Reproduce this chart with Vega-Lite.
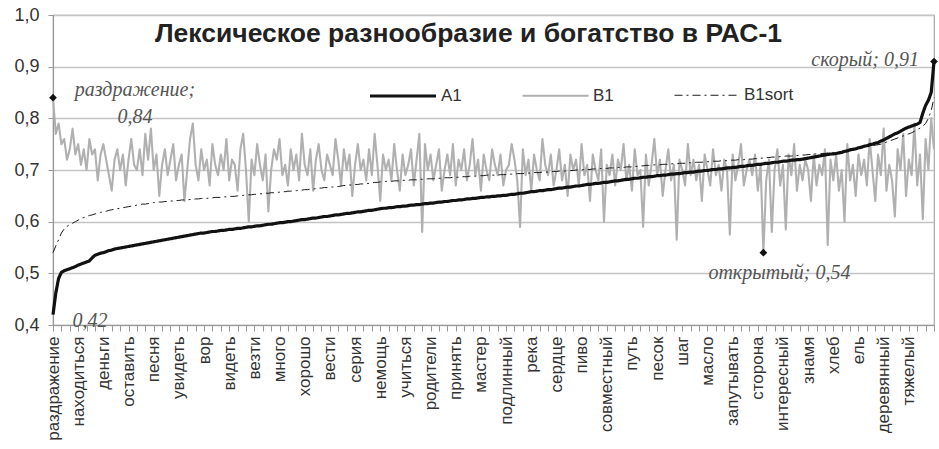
{
  "$schema": "https://vega.github.io/schema/vega-lite/v6.json",
  "width": 881,
  "height": 310,
  "autosize": {"type": "none"},
  "padding": {"left": 53, "top": 15, "right": 5, "bottom": 124},
  "background": "white",
  "config": {"font": "Liberation Sans", "view": {"stroke": "#a8a8a8", "strokeWidth": 1.2}},
  "title": {"text": "Лексическое разнообразие и богатство в РАС-1", "anchor": "middle", "frame": "group", "offset": -54, "dx": -25, "fontSize": 26.5, "font": "Liberation Sans", "fontWeight": "bold", "color": "#222", "baseline": "middle"},
  "data": {"values": [
{"i":0,"A1":0.42,"B1":0.84,"B1sort":0.54},
{"i":1,"A1":0.462,"B1":0.77,"B1sort":0.553},
{"i":2,"A1":0.49,"B1":0.79,"B1sort":0.565},
{"i":3,"A1":0.502,"B1":0.75,"B1sort":0.578},
{"i":4,"A1":0.505,"B1":0.76,"B1sort":0.586},
{"i":5,"A1":0.507,"B1":0.72,"B1sort":0.591},
{"i":6,"A1":0.509,"B1":0.74,"B1sort":0.594},
{"i":7,"A1":0.511,"B1":0.78,"B1sort":0.597},
{"i":8,"A1":0.513,"B1":0.73,"B1sort":0.6},
{"i":9,"A1":0.516,"B1":0.75,"B1sort":0.603},
{"i":10,"A1":0.518,"B1":0.71,"B1sort":0.606},
{"i":11,"A1":0.52,"B1":0.74,"B1sort":0.608},
{"i":12,"A1":0.522,"B1":0.7,"B1sort":0.61},
{"i":13,"A1":0.524,"B1":0.76,"B1sort":0.612},
{"i":14,"A1":0.53,"B1":0.73,"B1sort":0.613},
{"i":15,"A1":0.535,"B1":0.74,"B1sort":0.615},
{"i":16,"A1":0.537,"B1":0.68,"B1sort":0.616},
{"i":17,"A1":0.539,"B1":0.73,"B1sort":0.618},
{"i":18,"A1":0.54,"B1":0.75,"B1sort":0.619},
{"i":19,"A1":0.542,"B1":0.72,"B1sort":0.62},
{"i":20,"A1":0.544,"B1":0.69,"B1sort":0.622},
{"i":21,"A1":0.545,"B1":0.66,"B1sort":0.623},
{"i":22,"A1":0.547,"B1":0.72,"B1sort":0.624},
{"i":23,"A1":0.548,"B1":0.74,"B1sort":0.625},
{"i":24,"A1":0.549,"B1":0.7,"B1sort":0.626},
{"i":25,"A1":0.55,"B1":0.73,"B1sort":0.627},
{"i":26,"A1":0.551,"B1":0.67,"B1sort":0.628},
{"i":27,"A1":0.552,"B1":0.72,"B1sort":0.629},
{"i":28,"A1":0.553,"B1":0.76,"B1sort":0.63},
{"i":29,"A1":0.554,"B1":0.71,"B1sort":0.631},
{"i":30,"A1":0.555,"B1":0.7,"B1sort":0.632},
{"i":31,"A1":0.556,"B1":0.74,"B1sort":0.633},
{"i":32,"A1":0.557,"B1":0.69,"B1sort":0.634},
{"i":33,"A1":0.558,"B1":0.77,"B1sort":0.634},
{"i":34,"A1":0.559,"B1":0.72,"B1sort":0.635},
{"i":35,"A1":0.56,"B1":0.78,"B1sort":0.636},
{"i":36,"A1":0.561,"B1":0.7,"B1sort":0.637},
{"i":37,"A1":0.562,"B1":0.73,"B1sort":0.637},
{"i":38,"A1":0.563,"B1":0.65,"B1sort":0.638},
{"i":39,"A1":0.564,"B1":0.71,"B1sort":0.638},
{"i":40,"A1":0.565,"B1":0.74,"B1sort":0.639},
{"i":41,"A1":0.566,"B1":0.69,"B1sort":0.639},
{"i":42,"A1":0.567,"B1":0.72,"B1sort":0.64},
{"i":43,"A1":0.568,"B1":0.75,"B1sort":0.64},
{"i":44,"A1":0.569,"B1":0.68,"B1sort":0.641},
{"i":45,"A1":0.57,"B1":0.71,"B1sort":0.641},
{"i":46,"A1":0.571,"B1":0.73,"B1sort":0.642},
{"i":47,"A1":0.572,"B1":0.64,"B1sort":0.642},
{"i":48,"A1":0.573,"B1":0.7,"B1sort":0.642},
{"i":49,"A1":0.574,"B1":0.76,"B1sort":0.643},
{"i":50,"A1":0.575,"B1":0.79,"B1sort":0.643},
{"i":51,"A1":0.576,"B1":0.71,"B1sort":0.644},
{"i":52,"A1":0.577,"B1":0.68,"B1sort":0.644},
{"i":53,"A1":0.578,"B1":0.74,"B1sort":0.645},
{"i":54,"A1":0.578,"B1":0.7,"B1sort":0.645},
{"i":55,"A1":0.579,"B1":0.72,"B1sort":0.645},
{"i":56,"A1":0.58,"B1":0.67,"B1sort":0.646},
{"i":57,"A1":0.581,"B1":0.75,"B1sort":0.646},
{"i":58,"A1":0.581,"B1":0.71,"B1sort":0.647},
{"i":59,"A1":0.582,"B1":0.69,"B1sort":0.647},
{"i":60,"A1":0.583,"B1":0.73,"B1sort":0.647},
{"i":61,"A1":0.583,"B1":0.7,"B1sort":0.648},
{"i":62,"A1":0.584,"B1":0.76,"B1sort":0.648},
{"i":63,"A1":0.585,"B1":0.68,"B1sort":0.649},
{"i":64,"A1":0.585,"B1":0.72,"B1sort":0.649},
{"i":65,"A1":0.586,"B1":0.71,"B1sort":0.649},
{"i":66,"A1":0.587,"B1":0.66,"B1sort":0.65},
{"i":67,"A1":0.587,"B1":0.74,"B1sort":0.65},
{"i":68,"A1":0.588,"B1":0.77,"B1sort":0.651},
{"i":69,"A1":0.589,"B1":0.7,"B1sort":0.651},
{"i":70,"A1":0.59,"B1":0.6,"B1sort":0.652},
{"i":71,"A1":0.59,"B1":0.72,"B1sort":0.652},
{"i":72,"A1":0.591,"B1":0.69,"B1sort":0.653},
{"i":73,"A1":0.592,"B1":0.75,"B1sort":0.653},
{"i":74,"A1":0.592,"B1":0.71,"B1sort":0.654},
{"i":75,"A1":0.593,"B1":0.68,"B1sort":0.654},
{"i":76,"A1":0.594,"B1":0.73,"B1sort":0.655},
{"i":77,"A1":0.595,"B1":0.62,"B1sort":0.655},
{"i":78,"A1":0.595,"B1":0.7,"B1sort":0.656},
{"i":79,"A1":0.596,"B1":0.74,"B1sort":0.656},
{"i":80,"A1":0.597,"B1":0.72,"B1sort":0.657},
{"i":81,"A1":0.598,"B1":0.76,"B1sort":0.657},
{"i":82,"A1":0.598,"B1":0.69,"B1sort":0.658},
{"i":83,"A1":0.599,"B1":0.71,"B1sort":0.658},
{"i":84,"A1":0.6,"B1":0.67,"B1sort":0.659},
{"i":85,"A1":0.6,"B1":0.74,"B1sort":0.659},
{"i":86,"A1":0.601,"B1":0.7,"B1sort":0.66},
{"i":87,"A1":0.602,"B1":0.73,"B1sort":0.66},
{"i":88,"A1":0.603,"B1":0.68,"B1sort":0.661},
{"i":89,"A1":0.604,"B1":0.77,"B1sort":0.661},
{"i":90,"A1":0.604,"B1":0.71,"B1sort":0.662},
{"i":91,"A1":0.605,"B1":0.69,"B1sort":0.662},
{"i":92,"A1":0.606,"B1":0.74,"B1sort":0.663},
{"i":93,"A1":0.607,"B1":0.66,"B1sort":0.663},
{"i":94,"A1":0.607,"B1":0.72,"B1sort":0.664},
{"i":95,"A1":0.608,"B1":0.75,"B1sort":0.665},
{"i":96,"A1":0.609,"B1":0.7,"B1sort":0.665},
{"i":97,"A1":0.61,"B1":0.68,"B1sort":0.666},
{"i":98,"A1":0.61,"B1":0.73,"B1sort":0.666},
{"i":99,"A1":0.611,"B1":0.71,"B1sort":0.667},
{"i":100,"A1":0.612,"B1":0.69,"B1sort":0.667},
{"i":101,"A1":0.613,"B1":0.76,"B1sort":0.668},
{"i":102,"A1":0.613,"B1":0.72,"B1sort":0.668},
{"i":103,"A1":0.614,"B1":0.67,"B1sort":0.669},
{"i":104,"A1":0.615,"B1":0.74,"B1sort":0.67},
{"i":105,"A1":0.616,"B1":0.7,"B1sort":0.67},
{"i":106,"A1":0.616,"B1":0.73,"B1sort":0.671},
{"i":107,"A1":0.617,"B1":0.65,"B1sort":0.671},
{"i":108,"A1":0.618,"B1":0.71,"B1sort":0.672},
{"i":109,"A1":0.619,"B1":0.75,"B1sort":0.672},
{"i":110,"A1":0.619,"B1":0.7,"B1sort":0.673},
{"i":111,"A1":0.62,"B1":0.72,"B1sort":0.673},
{"i":112,"A1":0.621,"B1":0.68,"B1sort":0.674},
{"i":113,"A1":0.622,"B1":0.74,"B1sort":0.674},
{"i":114,"A1":0.622,"B1":0.69,"B1sort":0.675},
{"i":115,"A1":0.623,"B1":0.77,"B1sort":0.676},
{"i":116,"A1":0.624,"B1":0.71,"B1sort":0.676},
{"i":117,"A1":0.625,"B1":0.64,"B1sort":0.677},
{"i":118,"A1":0.626,"B1":0.73,"B1sort":0.677},
{"i":119,"A1":0.626,"B1":0.7,"B1sort":0.678},
{"i":120,"A1":0.627,"B1":0.72,"B1sort":0.678},
{"i":121,"A1":0.627,"B1":0.68,"B1sort":0.678},
{"i":122,"A1":0.628,"B1":0.75,"B1sort":0.679},
{"i":123,"A1":0.629,"B1":0.7,"B1sort":0.679},
{"i":124,"A1":0.629,"B1":0.66,"B1sort":0.679},
{"i":125,"A1":0.63,"B1":0.73,"B1sort":0.68},
{"i":126,"A1":0.63,"B1":0.69,"B1sort":0.68},
{"i":127,"A1":0.631,"B1":0.71,"B1sort":0.68},
{"i":128,"A1":0.632,"B1":0.74,"B1sort":0.681},
{"i":129,"A1":0.632,"B1":0.67,"B1sort":0.681},
{"i":130,"A1":0.633,"B1":0.72,"B1sort":0.681},
{"i":131,"A1":0.633,"B1":0.77,"B1sort":0.682},
{"i":132,"A1":0.634,"B1":0.58,"B1sort":0.682},
{"i":133,"A1":0.635,"B1":0.75,"B1sort":0.682},
{"i":134,"A1":0.635,"B1":0.7,"B1sort":0.683},
{"i":135,"A1":0.636,"B1":0.73,"B1sort":0.683},
{"i":136,"A1":0.636,"B1":0.68,"B1sort":0.683},
{"i":137,"A1":0.637,"B1":0.71,"B1sort":0.684},
{"i":138,"A1":0.638,"B1":0.74,"B1sort":0.684},
{"i":139,"A1":0.638,"B1":0.66,"B1sort":0.684},
{"i":140,"A1":0.639,"B1":0.7,"B1sort":0.685},
{"i":141,"A1":0.639,"B1":0.73,"B1sort":0.685},
{"i":142,"A1":0.64,"B1":0.69,"B1sort":0.685},
{"i":143,"A1":0.641,"B1":0.75,"B1sort":0.686},
{"i":144,"A1":0.641,"B1":0.67,"B1sort":0.686},
{"i":145,"A1":0.642,"B1":0.72,"B1sort":0.686},
{"i":146,"A1":0.642,"B1":0.7,"B1sort":0.687},
{"i":147,"A1":0.643,"B1":0.74,"B1sort":0.687},
{"i":148,"A1":0.644,"B1":0.68,"B1sort":0.687},
{"i":149,"A1":0.644,"B1":0.71,"B1sort":0.688},
{"i":150,"A1":0.645,"B1":0.76,"B1sort":0.688},
{"i":151,"A1":0.645,"B1":0.69,"B1sort":0.688},
{"i":152,"A1":0.646,"B1":0.72,"B1sort":0.689},
{"i":153,"A1":0.647,"B1":0.66,"B1sort":0.689},
{"i":154,"A1":0.647,"B1":0.73,"B1sort":0.689},
{"i":155,"A1":0.648,"B1":0.7,"B1sort":0.69},
{"i":156,"A1":0.648,"B1":0.68,"B1sort":0.69},
{"i":157,"A1":0.649,"B1":0.74,"B1sort":0.69},
{"i":158,"A1":0.649,"B1":0.71,"B1sort":0.69},
{"i":159,"A1":0.65,"B1":0.69,"B1sort":0.69},
{"i":160,"A1":0.65,"B1":0.73,"B1sort":0.691},
{"i":161,"A1":0.651,"B1":0.67,"B1sort":0.691},
{"i":162,"A1":0.651,"B1":0.7,"B1sort":0.691},
{"i":163,"A1":0.652,"B1":0.71,"B1sort":0.692},
{"i":164,"A1":0.653,"B1":0.75,"B1sort":0.692},
{"i":165,"A1":0.653,"B1":0.72,"B1sort":0.692},
{"i":166,"A1":0.654,"B1":0.68,"B1sort":0.693},
{"i":167,"A1":0.655,"B1":0.59,"B1sort":0.693},
{"i":168,"A1":0.655,"B1":0.74,"B1sort":0.693},
{"i":169,"A1":0.656,"B1":0.69,"B1sort":0.694},
{"i":170,"A1":0.657,"B1":0.72,"B1sort":0.694},
{"i":171,"A1":0.658,"B1":0.66,"B1sort":0.694},
{"i":172,"A1":0.658,"B1":0.73,"B1sort":0.695},
{"i":173,"A1":0.659,"B1":0.7,"B1sort":0.695},
{"i":174,"A1":0.66,"B1":0.68,"B1sort":0.695},
{"i":175,"A1":0.66,"B1":0.76,"B1sort":0.696},
{"i":176,"A1":0.661,"B1":0.71,"B1sort":0.696},
{"i":177,"A1":0.662,"B1":0.69,"B1sort":0.696},
{"i":178,"A1":0.662,"B1":0.73,"B1sort":0.697},
{"i":179,"A1":0.663,"B1":0.67,"B1sort":0.697},
{"i":180,"A1":0.664,"B1":0.7,"B1sort":0.697},
{"i":181,"A1":0.665,"B1":0.74,"B1sort":0.698},
{"i":182,"A1":0.665,"B1":0.68,"B1sort":0.698},
{"i":183,"A1":0.666,"B1":0.71,"B1sort":0.698},
{"i":184,"A1":0.667,"B1":0.65,"B1sort":0.699},
{"i":185,"A1":0.667,"B1":0.73,"B1sort":0.699},
{"i":186,"A1":0.668,"B1":0.7,"B1sort":0.699},
{"i":187,"A1":0.669,"B1":0.72,"B1sort":0.7},
{"i":188,"A1":0.669,"B1":0.67,"B1sort":0.7},
{"i":189,"A1":0.67,"B1":0.75,"B1sort":0.7},
{"i":190,"A1":0.671,"B1":0.69,"B1sort":0.701},
{"i":191,"A1":0.672,"B1":0.71,"B1sort":0.701},
{"i":192,"A1":0.672,"B1":0.64,"B1sort":0.701},
{"i":193,"A1":0.673,"B1":0.73,"B1sort":0.702},
{"i":194,"A1":0.674,"B1":0.7,"B1sort":0.702},
{"i":195,"A1":0.674,"B1":0.68,"B1sort":0.702},
{"i":196,"A1":0.675,"B1":0.74,"B1sort":0.703},
{"i":197,"A1":0.676,"B1":0.6,"B1sort":0.703},
{"i":198,"A1":0.676,"B1":0.71,"B1sort":0.703},
{"i":199,"A1":0.677,"B1":0.69,"B1sort":0.704},
{"i":200,"A1":0.678,"B1":0.73,"B1sort":0.704},
{"i":201,"A1":0.679,"B1":0.67,"B1sort":0.704},
{"i":202,"A1":0.679,"B1":0.72,"B1sort":0.705},
{"i":203,"A1":0.68,"B1":0.7,"B1sort":0.705},
{"i":204,"A1":0.681,"B1":0.75,"B1sort":0.705},
{"i":205,"A1":0.682,"B1":0.68,"B1sort":0.706},
{"i":206,"A1":0.682,"B1":0.71,"B1sort":0.706},
{"i":207,"A1":0.683,"B1":0.66,"B1sort":0.706},
{"i":208,"A1":0.684,"B1":0.74,"B1sort":0.707},
{"i":209,"A1":0.684,"B1":0.69,"B1sort":0.707},
{"i":210,"A1":0.685,"B1":0.7,"B1sort":0.708},
{"i":211,"A1":0.686,"B1":0.59,"B1sort":0.708},
{"i":212,"A1":0.686,"B1":0.73,"B1sort":0.709},
{"i":213,"A1":0.687,"B1":0.67,"B1sort":0.709},
{"i":214,"A1":0.687,"B1":0.71,"B1sort":0.709},
{"i":215,"A1":0.688,"B1":0.76,"B1sort":0.71},
{"i":216,"A1":0.689,"B1":0.69,"B1sort":0.71},
{"i":217,"A1":0.689,"B1":0.72,"B1sort":0.71},
{"i":218,"A1":0.69,"B1":0.65,"B1sort":0.711},
{"i":219,"A1":0.69,"B1":0.7,"B1sort":0.711},
{"i":220,"A1":0.691,"B1":0.74,"B1sort":0.711},
{"i":221,"A1":0.692,"B1":0.68,"B1sort":0.712},
{"i":222,"A1":0.692,"B1":0.71,"B1sort":0.712},
{"i":223,"A1":0.693,"B1":0.565,"B1sort":0.712},
{"i":224,"A1":0.693,"B1":0.72,"B1sort":0.713},
{"i":225,"A1":0.694,"B1":0.7,"B1sort":0.713},
{"i":226,"A1":0.695,"B1":0.67,"B1sort":0.713},
{"i":227,"A1":0.695,"B1":0.75,"B1sort":0.714},
{"i":228,"A1":0.696,"B1":0.69,"B1sort":0.714},
{"i":229,"A1":0.696,"B1":0.72,"B1sort":0.714},
{"i":230,"A1":0.697,"B1":0.68,"B1sort":0.715},
{"i":231,"A1":0.698,"B1":0.71,"B1sort":0.715},
{"i":232,"A1":0.698,"B1":0.64,"B1sort":0.715},
{"i":233,"A1":0.699,"B1":0.73,"B1sort":0.716},
{"i":234,"A1":0.699,"B1":0.7,"B1sort":0.716},
{"i":235,"A1":0.7,"B1":0.67,"B1sort":0.716},
{"i":236,"A1":0.701,"B1":0.74,"B1sort":0.717},
{"i":237,"A1":0.701,"B1":0.69,"B1sort":0.717},
{"i":238,"A1":0.702,"B1":0.71,"B1sort":0.717},
{"i":239,"A1":0.702,"B1":0.66,"B1sort":0.718},
{"i":240,"A1":0.703,"B1":0.72,"B1sort":0.718},
{"i":241,"A1":0.704,"B1":0.7,"B1sort":0.718},
{"i":242,"A1":0.704,"B1":0.575,"B1sort":0.719},
{"i":243,"A1":0.705,"B1":0.73,"B1sort":0.719},
{"i":244,"A1":0.705,"B1":0.68,"B1sort":0.719},
{"i":245,"A1":0.706,"B1":0.71,"B1sort":0.72},
{"i":246,"A1":0.707,"B1":0.75,"B1sort":0.72},
{"i":247,"A1":0.707,"B1":0.67,"B1sort":0.72},
{"i":248,"A1":0.708,"B1":0.7,"B1sort":0.721},
{"i":249,"A1":0.709,"B1":0.72,"B1sort":0.721},
{"i":250,"A1":0.709,"B1":0.69,"B1sort":0.721},
{"i":251,"A1":0.71,"B1":0.73,"B1sort":0.722},
{"i":252,"A1":0.711,"B1":0.66,"B1sort":0.722},
{"i":253,"A1":0.711,"B1":0.71,"B1sort":0.723},
{"i":254,"A1":0.712,"B1":0.54,"B1sort":0.723},
{"i":255,"A1":0.713,"B1":0.68,"B1sort":0.724},
{"i":256,"A1":0.713,"B1":0.72,"B1sort":0.724},
{"i":257,"A1":0.714,"B1":0.58,"B1sort":0.725},
{"i":258,"A1":0.715,"B1":0.7,"B1sort":0.725},
{"i":259,"A1":0.715,"B1":0.74,"B1sort":0.725},
{"i":260,"A1":0.716,"B1":0.67,"B1sort":0.726},
{"i":261,"A1":0.717,"B1":0.71,"B1sort":0.726},
{"i":262,"A1":0.717,"B1":0.585,"B1sort":0.727},
{"i":263,"A1":0.718,"B1":0.73,"B1sort":0.727},
{"i":264,"A1":0.719,"B1":0.69,"B1sort":0.727},
{"i":265,"A1":0.719,"B1":0.75,"B1sort":0.728},
{"i":266,"A1":0.72,"B1":0.66,"B1sort":0.728},
{"i":267,"A1":0.72,"B1":0.71,"B1sort":0.729},
{"i":268,"A1":0.721,"B1":0.68,"B1sort":0.729},
{"i":269,"A1":0.722,"B1":0.72,"B1sort":0.729},
{"i":270,"A1":0.723,"B1":0.7,"B1sort":0.73},
{"i":271,"A1":0.724,"B1":0.64,"B1sort":0.73},
{"i":272,"A1":0.725,"B1":0.73,"B1sort":0.731},
{"i":273,"A1":0.726,"B1":0.67,"B1sort":0.731},
{"i":274,"A1":0.727,"B1":0.71,"B1sort":0.731},
{"i":275,"A1":0.728,"B1":0.69,"B1sort":0.732},
{"i":276,"A1":0.729,"B1":0.74,"B1sort":0.732},
{"i":277,"A1":0.73,"B1":0.555,"B1sort":0.733},
{"i":278,"A1":0.731,"B1":0.72,"B1sort":0.733},
{"i":279,"A1":0.731,"B1":0.68,"B1sort":0.734},
{"i":280,"A1":0.732,"B1":0.73,"B1sort":0.734},
{"i":281,"A1":0.733,"B1":0.66,"B1sort":0.735},
{"i":282,"A1":0.734,"B1":0.7,"B1sort":0.736},
{"i":283,"A1":0.736,"B1":0.6,"B1sort":0.737},
{"i":284,"A1":0.737,"B1":0.75,"B1sort":0.738},
{"i":285,"A1":0.739,"B1":0.68,"B1sort":0.739},
{"i":286,"A1":0.74,"B1":0.71,"B1sort":0.74},
{"i":287,"A1":0.741,"B1":0.65,"B1sort":0.741},
{"i":288,"A1":0.743,"B1":0.73,"B1sort":0.742},
{"i":289,"A1":0.744,"B1":0.69,"B1sort":0.743},
{"i":290,"A1":0.746,"B1":0.72,"B1sort":0.744},
{"i":291,"A1":0.747,"B1":0.67,"B1sort":0.745},
{"i":292,"A1":0.749,"B1":0.76,"B1sort":0.746},
{"i":293,"A1":0.75,"B1":0.7,"B1sort":0.747},
{"i":294,"A1":0.752,"B1":0.64,"B1sort":0.748},
{"i":295,"A1":0.753,"B1":0.73,"B1sort":0.749},
{"i":296,"A1":0.756,"B1":0.69,"B1sort":0.75},
{"i":297,"A1":0.758,"B1":0.78,"B1sort":0.752},
{"i":298,"A1":0.761,"B1":0.66,"B1sort":0.754},
{"i":299,"A1":0.764,"B1":0.71,"B1sort":0.756},
{"i":300,"A1":0.767,"B1":0.68,"B1sort":0.758},
{"i":301,"A1":0.77,"B1":0.61,"B1sort":0.76},
{"i":302,"A1":0.772,"B1":0.74,"B1sort":0.762},
{"i":303,"A1":0.775,"B1":0.7,"B1sort":0.764},
{"i":304,"A1":0.778,"B1":0.77,"B1sort":0.766},
{"i":305,"A1":0.781,"B1":0.65,"B1sort":0.768},
{"i":306,"A1":0.783,"B1":0.72,"B1sort":0.77},
{"i":307,"A1":0.785,"B1":0.69,"B1sort":0.772},
{"i":308,"A1":0.787,"B1":0.79,"B1sort":0.775},
{"i":309,"A1":0.789,"B1":0.67,"B1sort":0.778},
{"i":310,"A1":0.792,"B1":0.73,"B1sort":0.781},
{"i":311,"A1":0.81,"B1":0.605,"B1sort":0.785},
{"i":312,"A1":0.825,"B1":0.76,"B1sort":0.79},
{"i":313,"A1":0.835,"B1":0.7,"B1sort":0.8},
{"i":314,"A1":0.85,"B1":0.8,"B1sort":0.815},
{"i":315,"A1":0.91,"B1":0.74,"B1sort":0.84}
  ]},
  "layer": [
    {
      "transform": [{"fold": ["B1", "B1sort", "A1"], "as": ["series", "value"]}],
      "mark": {"type": "line", "strokeJoin": "round", "clip": false},
      "encoding": {
        "x": {
          "field": "i", "type": "quantitative",
          "scale": {"domain": [0, 315], "nice": false, "zero": false},
          "axis": {
            "title": null, "grid": false, "tickCount": 1000,
            "values": [0,3,6,9,12,15,18,21,24,27,30,33,36,39,42,45,48,51,54,57,60,63,66,69,72,75,78,81,84,87,90,93,96,99,102,105,108,111,114,117,120,123,126,129,132,135,138,141,144,147,150,153,156,159,162,165,168,171,174,177,180,183,186,189,192,195,198,201,204,207,210,213,216,219,222,225,228,231,234,237,240,243,246,249,252,255,258,261,264,267,270,273,276,279,282,285,288,291,294,297,300,303,306,309,312,315],
            "labelExpr": "datum.value % 9 == 0 ? ['раздражение','находиться','деньги','оставить','песня','увидеть','вор','видеть','везти','много','хорошо','вести','серия','немощь','учиться','родители','принять','мастер','подлинный','река','сердце','пиво','совместный','путь','песок','шаг','масло','запутывать','сторона','интересный','знамя','хлеб','ель','деревянный','тяжелый'][datum.value / 9] : ''",
            "labelAngle": -90, "labelAlign": "right", "labelBaseline": "middle",
            "labelFontSize": 17, "labelFont": "Liberation Sans", "labelColor": "#333",
            "labelOverlap": false, "labelFlush": false, "labelPadding": 5,
            "tickSize": 6, "tickColor": "#999", "domainColor": "#999", "domainWidth": 1.2
          }
        },
        "y": {
          "field": "value", "type": "quantitative",
          "scale": {"domain": [0.4, 1.0], "nice": false, "zero": false},
          "axis": {
            "title": null, "values": [0.4, 0.5, 0.6, 0.7, 0.8, 0.9, 1.0],
            "labelExpr": "replace(format(datum.value, '.1f'), '.', ',')",
            "labelFontSize": 18, "labelFont": "Liberation Sans", "labelColor": "#333", "labelPadding": 9,
            "tickSize": 5, "tickColor": "#999", "domainColor": "#999", "domainWidth": 1.2,
            "grid": true, "gridColor": "#c4c4c4", "gridWidth": 1.3
          }
        },
        "color": {
          "field": "series", "type": "nominal",
          "scale": {"domain": ["A1", "B1", "B1sort"], "range": ["#111111", "#b0b0b0", "#1a1a1a"]},
          "legend": {
            "title": null, "orient": "none", "legendX": 315, "legendY": 46, "direction": "horizontal",
            "symbolType": "stroke", "symbolSize": 4356, "labelFontSize": 17, "labelFont": "Liberation Sans",
            "labelColor": "#333", "labelOffset": 3, "columnPadding": 30, "gridAlign": "all", "padding": 0
          }
        },
        "strokeWidth": {
          "field": "series", "type": "nominal",
          "scale": {"domain": ["A1", "B1", "B1sort"], "range": [3.2, 1, 1.8]}
        },
        "strokeDash": {
          "field": "series", "type": "nominal",
          "scale": {"domain": ["A1", "B1", "B1sort"], "range": [[1, 0], [1, 0], [8, 4, 2, 4]]}
        }
      }
    },
    {
      "data": {"values": [{"i": 0, "v": 0.84}, {"i": 315, "v": 0.91}, {"i": 254, "v": 0.54}]},
      "mark": {"type": "point", "shape": "diamond", "filled": true, "color": "#111", "size": 60, "opacity": 1},
      "encoding": {"x": {"field": "i", "type": "quantitative"}, "y": {"field": "v", "type": "quantitative"}}
    },
    {
      "data": {"values": [{"i": 0, "v": 0.84, "t": "раздражение;\n0,84"}]},
      "mark": {"type": "text", "font": "Liberation Serif", "fontStyle": "italic", "fontSize": 20, "color": "#555", "align": "center", "baseline": "middle", "lineBreak": "\n", "lineHeight": 27, "dx": 82, "dy": -8},
      "encoding": {"x": {"field": "i", "type": "quantitative"}, "y": {"field": "v", "type": "quantitative"}, "text": {"field": "t"}}
    },
    {
      "data": {"values": [{"i": 315, "v": 0.91, "t": "скорый; 0,91"}]},
      "mark": {"type": "text", "font": "Liberation Serif", "fontStyle": "italic", "fontSize": 20, "color": "#555", "align": "right", "baseline": "middle", "dx": -15, "dy": -2},
      "encoding": {"x": {"field": "i", "type": "quantitative"}, "y": {"field": "v", "type": "quantitative"}, "text": {"field": "t"}}
    },
    {
      "data": {"values": [{"i": 254, "v": 0.54, "t": "открытый; 0,54"}]},
      "mark": {"type": "text", "font": "Liberation Serif", "fontStyle": "italic", "fontSize": 20, "color": "#555", "align": "center", "baseline": "middle", "dx": 16, "dy": 20},
      "encoding": {"x": {"field": "i", "type": "quantitative"}, "y": {"field": "v", "type": "quantitative"}, "text": {"field": "t"}}
    },
    {
      "data": {"values": [{"i": 0, "v": 0.42, "t": "0,42"}]},
      "mark": {"type": "text", "font": "Liberation Serif", "fontStyle": "italic", "fontSize": 20, "color": "#555", "align": "center", "baseline": "middle", "dx": 37, "dy": 6},
      "encoding": {"x": {"field": "i", "type": "quantitative"}, "y": {"field": "v", "type": "quantitative"}, "text": {"field": "t"}}
    }
  ]
}
